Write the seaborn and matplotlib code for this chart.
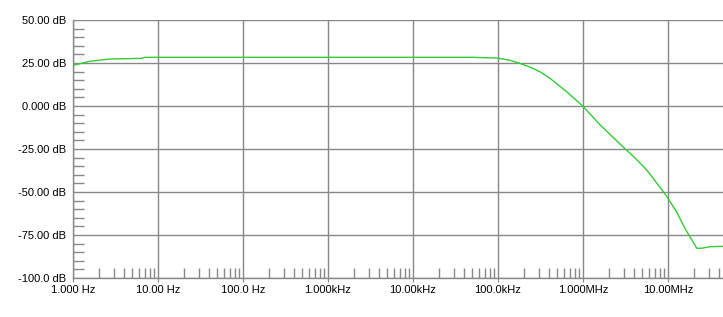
import numpy as np
import pandas as pd
import matplotlib
matplotlib.use("Agg")
import matplotlib.pyplot as plt
import seaborn as sns
from matplotlib.ticker import FixedLocator, NullFormatter, LogLocator

# Data (frequency in Hz, gain in dB)
freq_hz = [1.0, 1.58, 2.72, 6.4, 7.0, 31.0, 1000.0, 10000.0, 50000.0, 97000.0,
           138000.0, 181000.0, 238000.0, 312000.0, 409000.0, 643000.0, 992000.0,
           1.59e6, 2.95e6, 4.09e6, 5.62e6, 8.8e6, 10.0e6, 12.6e6, 15.8e6,
           21.8e6, 24.9e6, 31.2e6, 44.0e6]
gain_db = [23.6, 26.0, 27.3, 27.7, 28.3, 28.3, 28.3, 28.3, 28.3, 27.9,
           26.6, 24.8, 22.6, 19.9, 16.1, 8.3, 0.0,
           -11.0, -23.7, -30.2, -37.2, -49.8, -53.7, -61.5, -71.1,
           -82.7, -82.7, -81.8, -81.6]

x_tick_values = [1, 10, 100, 1e3, 1e4, 1e5, 1e6, 1e7]
x_tick_labels = ["1.000 Hz", "10.00 Hz", "100.0 Hz", "1.000kHz", "10.00kHz",
                 "100.0kHz", "1.000MHz", "10.00MHz"]
y_tick_values = [50, 25, 0, -25, -50, -75, -100]
y_tick_labels = ["50.00 dB", "25.00 dB", "0.000 dB", "-25.00 dB", "-50.00 dB",
                 "-75.00 dB", "-100.0 dB"]

df = pd.DataFrame({"freq": freq_hz, "gain": gain_db})

sns.set_style("white")
plt.rcParams["font.family"] = ["Liberation Sans", "DejaVu Sans"]

fig = plt.figure(figsize=(7.23, 3.17), dpi=100)
W, H = 723, 317
left, right, top, bottom = 73, 723, 20, 278
ax = fig.add_axes([left / W, (H - bottom) / H, (right - left) / W, (bottom - top) / H])

sns.lineplot(data=df, x="freq", y="gain", ax=ax, color="#33cc33", linewidth=1.0)
ax.set_xscale("log")
ax.set_xlim(1, 10 ** ((right - left) / 85.0))
ax.set_ylim(-100, 50)

ax.set_xticks(x_tick_values)
ax.set_xticklabels(x_tick_labels)
ax.set_yticks(y_tick_values)
ax.set_yticklabels(y_tick_labels)
ax.xaxis.set_minor_locator(LogLocator(base=10, subs=np.arange(2, 10), numticks=20))
ax.xaxis.set_minor_formatter(NullFormatter())
ax.yaxis.set_minor_locator(FixedLocator(np.arange(-100, 51, 5)))

ax.grid(True, which="major", color="#888888", linewidth=1.0)
ax.set_axisbelow(True)
ax.tick_params(which="both", bottom=True, left=True, top=False, right=False)
ax.tick_params(axis="x", which="major", length=3, direction="out", color="#888888",
               labelsize=8, pad=2, labelcolor="black")
ax.tick_params(axis="y", which="major", length=0, labelsize=8, pad=5, labelcolor="black")
ax.tick_params(axis="x", which="minor", length=7, direction="in", color="#888888", width=1)
ax.tick_params(axis="y", which="minor", length=8, direction="in", color="#888888", width=1)

for s in ["top", "right"]:
    ax.spines[s].set_visible(False)
for s in ["left", "bottom"]:
    ax.spines[s].set_color("#888888")
    ax.spines[s].set_linewidth(1.0)

ax.set_xlabel("")
ax.set_ylabel("")

fig.savefig("out.png", dpi=100, facecolor="white")
